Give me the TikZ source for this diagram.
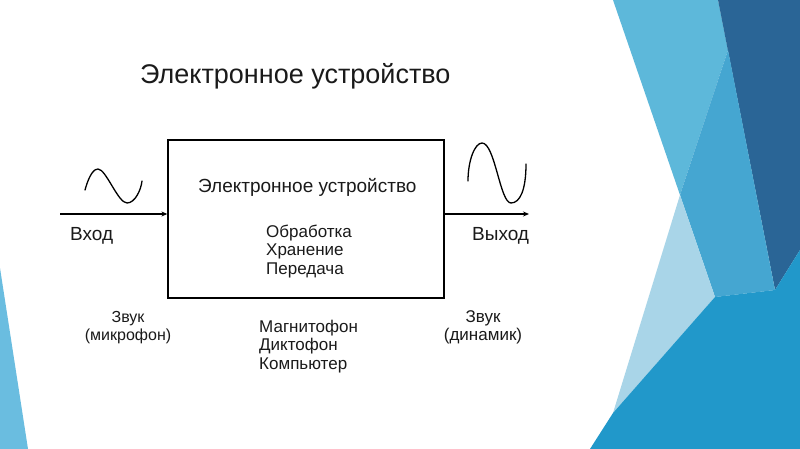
\documentclass[tikz,border=0pt]{standalone}
\usepackage{fontspec}
\setmainfont{Liberation Sans}
\usetikzlibrary{arrows.meta}
\definecolor{bandlight}{HTML}{5DB8DA}
\definecolor{bandmid}{HTML}{45A6D1}
\definecolor{banddark}{HTML}{2A6596}
\definecolor{bandpale}{HTML}{A9D5E8}
\definecolor{bandbottom}{HTML}{2198CA}
\definecolor{bandleft}{HTML}{6ABDE0}
\definecolor{txt}{HTML}{1A1A1A}
\tikzset{
  lbl/.style={font=\fontsize{17}{18.5}\selectfont, text=txt, inner sep=0pt, align=left},
  lblc/.style={font=\fontsize{17}{17.5}\selectfont, text=txt, inner sep=0pt, align=center},
  big/.style={font=\fontsize{19}{22}\selectfont, text=txt, inner sep=0pt},
  conn/.style={line width=1.2pt, -{Stealth[length=6pt,width=5pt]}},
  wave/.style={line width=1.3pt, line cap=round},
  devbox/.style={draw, line width=1.3pt, minimum width=276pt, minimum height=158pt, inner sep=0pt}
}
\begin{document}
\begin{tikzpicture}[x=1pt,y=-1pt]
\useasboundingbox (0,0) rectangle (800,449);
\fill[white] (0,0) rectangle (800,449);
% background bands
\fill[bandleft] (0,268) -- (28,449) -- (0,449) -- cycle;
\fill[bandlight] (613,0) -- (718,0) -- (728,50) -- (680,195) -- cycle;
\fill[banddark] (718,0) -- (800,0) -- (800,250) -- (775,290) -- cycle;
\fill[bandmid] (728,50) -- (775,290) -- (715,297) -- (680,195) -- cycle;
\fill[bandpale] (680,195) -- (715,297) -- (613,413) -- cycle;
\fill[bandbottom] (590,449) -- (613,413) -- (715,297) -- (775,290) -- (800,250) -- (800,449) -- cycle;
% title
\node[font=\fontsize{27}{32}\selectfont, text=txt, inner sep=0pt, anchor=base west] (title) at (140,84) {Электронное устройство};
% box
\node[devbox] (dev) at (306,219) {};
\node[big, anchor=base west] (devtitle) at (198,193) {Электронное устройство};
\node[lbl, anchor=base west] (funcs) at (266,274) {Обработка\\Хранение\\Передача};
% input / output
\coordinate (inStart) at (60,214);
\coordinate (outEnd) at (529,214);
\draw[conn] (inStart) -- (inStart -| dev.west);
\draw[conn] (outEnd -| dev.east) -- (outEnd);
% waves
\coordinate (w1) at (85,190);
\draw[wave] (w1) .. controls (90,172) and (95,169) .. (98,169)
  .. controls (106,169) and (118,203) .. (127,203)
  .. controls (135,203) and (141,190) .. (142,181);
\coordinate (w2) at (468,181);
\draw[wave] (w2) .. controls (468,160) and (475,143) .. (482,143)
  .. controls (495,143) and (500,203) .. (511,203)
  .. controls (520,203) and (526,190) .. (526,164);
\node[big, anchor=base west] (in) at (70,240) {Вход};
\node[big, anchor=base west] (out) at (472,240) {Выход};
\node[lblc, font=\fontsize{16}{17.5}\selectfont, anchor=base] (mic) at (128,340) {Звук\\(микрофон)};
\node[lblc, anchor=base] (spk) at (483,340) {Звук\\(динамик)};
\node[lbl, anchor=base west] (dev2) at (259,369) {Магнитофон\\Диктофон\\Компьютер};
\end{tikzpicture}
\end{document}
